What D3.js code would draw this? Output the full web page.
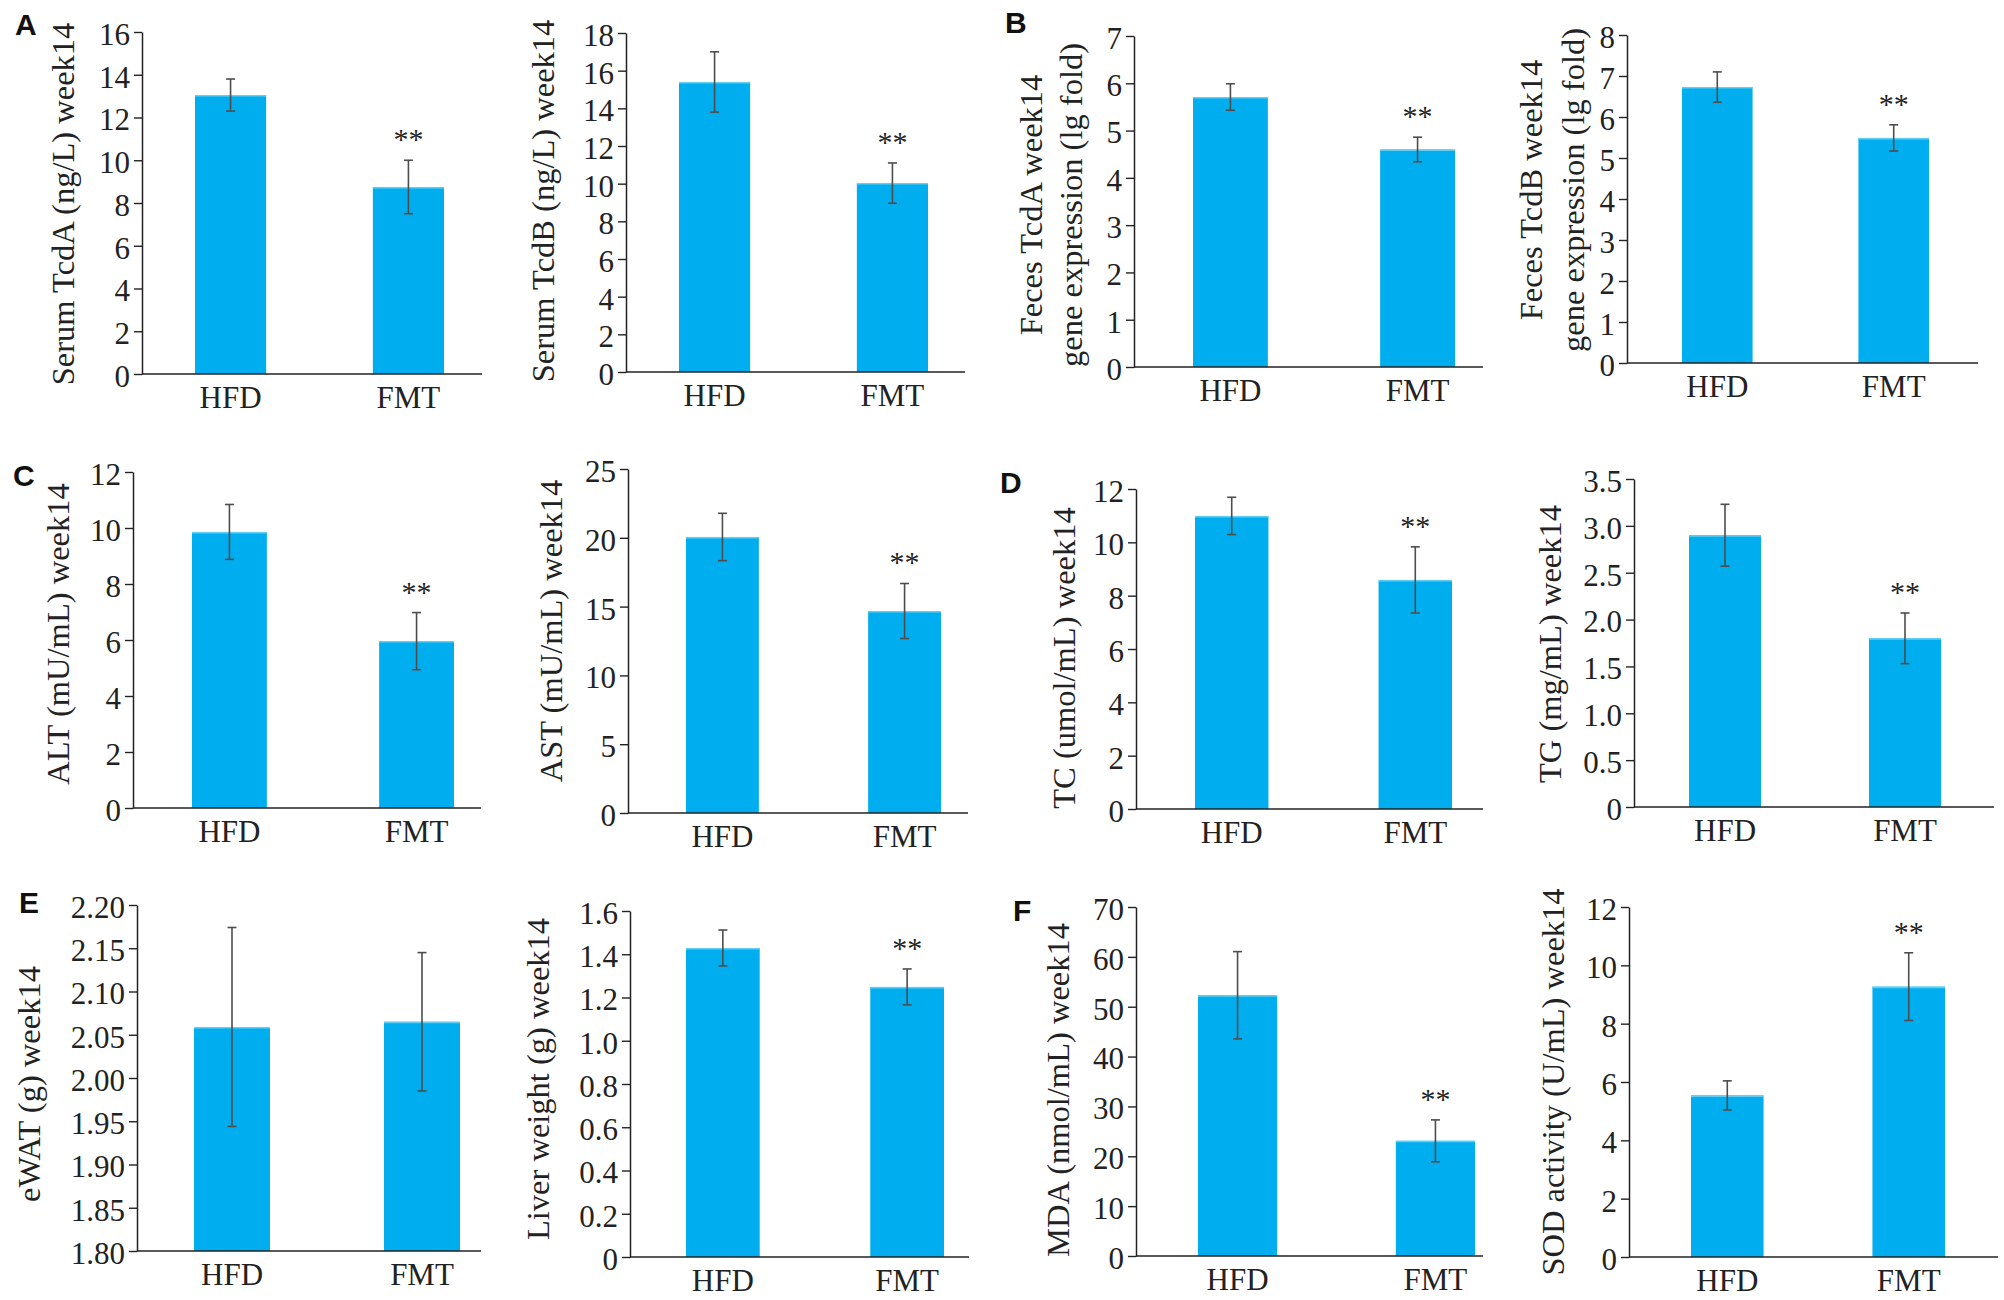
<!DOCTYPE html>
<html>
<head>
<meta charset="utf-8">
<script src="https://cdn.jsdelivr.net/npm/d3@7"></script>
<style>
  html, body { margin: 0; padding: 0; background: #fff; }
  svg { display: block; }
</style>
</head>
<body>
<div id="chart"></div>
<script>
const WIDTH = 2004;
const HEIGHT = 1300;

const BAR_COLOR = "#00aeef";
const ERR_COLOR = "#4d4d4d";
const AXIS_COLOR = "#222";
const SERIF = "'Liberation Serif', 'Times New Roman', serif";
const SANS = "'Liberation Sans', Arial, sans-serif";

// groups shown in every panel
const groups = ["HFD", "FMT"];

// values: mean and error (half bar length)
const serumTcdA = [13.05, 8.75];
const serumTcdAErr = [0.75, 1.25];
const serumTcdB = [15.4, 10.03];
const serumTcdBErr = [1.6, 1.07];
const fecesTcdA = [5.71, 4.6];
const fecesTcdAErr = [0.28, 0.26];
const fecesTcdB = [6.73, 5.49];
const fecesTcdBErr = [0.37, 0.32];
const alt = [9.86, 5.96];
const altErr = [0.98, 1.02];
const ast = [20.06, 14.68];
const astErr = [1.72, 2.0];
const tc = [10.99, 8.59];
const tcErr = [0.7, 1.24];
const tg = [2.9, 1.8];
const tgErr = [0.33, 0.27];
const ewat = [2.059, 2.065];
const ewatErr = [0.115, 0.08];
const liver = [1.429, 1.249];
const liverErr = [0.083, 0.083];
const mda = [52.3, 23.1];
const mdaErr = [8.75, 4.2];
const sod = [5.54, 9.27];
const sodErr = [0.5, 1.16];

// significance marks per group
const sigFirstOnly = [false, true];
const sigNone = [false, false];

// tick values of the y axes
const ticks0to16 = [0, 2, 4, 6, 8, 10, 12, 14, 16];
const ticks0to18 = [0, 2, 4, 6, 8, 10, 12, 14, 16, 18];
const ticks0to7 = [0, 1, 2, 3, 4, 5, 6, 7];
const ticks0to8 = [0, 1, 2, 3, 4, 5, 6, 7, 8];
const ticks0to12 = [0, 2, 4, 6, 8, 10, 12];
const ticks0to25 = [0, 5, 10, 15, 20, 25];
const ticks0to35 = [0, 0.5, 1.0, 1.5, 2.0, 2.5, 3.0, 3.5];
const ticksEwat = [1.8, 1.85, 1.9, 1.95, 2.0, 2.05, 2.1, 2.15, 2.2];
const ticksLiver = [0, 0.2, 0.4, 0.6, 0.8, 1.0, 1.2, 1.4, 1.6];
const ticks0to70 = [0, 10, 20, 30, 40, 50, 60, 70];

const fmtInt = d3.format("d");
const fmtOne = (d) => (d === 0 ? "0" : d3.format(".1f")(d));
const fmtTwo = d3.format(".2f");

// panel letters
const letters = [
  { text: "A", x: 15, y: 35 },
  { text: "B", x: 1005, y: 33 },
  { text: "C", x: 13, y: 486 },
  { text: "D", x: 1000, y: 493 },
  { text: "E", x: 19, y: 913 },
  { text: "F", x: 1013, y: 921 },
];

// one entry per panel; frame = axis box, bars = span covered by the two bars
const panels = [
  { label: ["Serum TcdA (ng/L) week14"], means: serumTcdA, errs: serumTcdAErr, sig: sigFirstOnly,
    ticks: ticks0to16, fmt: fmtInt,
    frame: { left: 142, right: 482, top: 32, bottom: 374 }, bars: [195, 444], labelX: [63], labelY: 204 },
  { label: ["Serum TcdB (ng/L) week14"], means: serumTcdB, errs: serumTcdBErr, sig: sigFirstOnly,
    ticks: ticks0to18, fmt: fmtInt,
    frame: { left: 626, right: 965, top: 33, bottom: 372 }, bars: [679, 928], labelX: [543], labelY: 201 },
  { label: ["Feces TcdA week14", "gene expression (lg fold)"], means: fecesTcdA, errs: fecesTcdAErr, sig: sigFirstOnly,
    ticks: ticks0to7, fmt: fmtInt,
    frame: { left: 1134, right: 1483, top: 36, bottom: 367 }, bars: [1193, 1455], labelX: [1031, 1071], labelY: 205 },
  { label: ["Feces TcdB week14", "gene expression (lg fold)"], means: fecesTcdB, errs: fecesTcdBErr, sig: sigFirstOnly,
    ticks: ticks0to8, fmt: fmtInt,
    frame: { left: 1627, right: 1978, top: 35, bottom: 363 }, bars: [1682, 1929], labelX: [1531, 1573], labelY: 190 },
  { label: ["ALT (mU/mL) week14"], means: alt, errs: altErr, sig: sigFirstOnly,
    ticks: ticks0to12, fmt: fmtInt,
    frame: { left: 133, right: 481, top: 472, bottom: 808 }, bars: [192, 454], labelX: [58], labelY: 634 },
  { label: ["AST (mU/mL) week14"], means: ast, errs: astErr, sig: sigFirstOnly,
    ticks: ticks0to25, fmt: fmtInt,
    frame: { left: 628, right: 968, top: 469, bottom: 813 }, bars: [686, 941], labelX: [551], labelY: 631 },
  { label: ["TC (umol/mL) week14"], means: tc, errs: tcErr, sig: sigFirstOnly,
    ticks: ticks0to12, fmt: fmtInt,
    frame: { left: 1136, right: 1483, top: 489, bottom: 809 }, bars: [1195, 1452], labelX: [1064], labelY: 658 },
  { label: ["TG (mg/mL) week14"], means: tg, errs: tgErr, sig: sigFirstOnly,
    ticks: ticks0to35, fmt: fmtOne,
    frame: { left: 1634, right: 1994, top: 479, bottom: 807 }, bars: [1689, 1941], labelX: [1550], labelY: 644 },
  { label: ["eWAT (g) week14"], means: ewat, errs: ewatErr, sig: sigNone,
    ticks: ticksEwat, fmt: fmtTwo,
    frame: { left: 137, right: 481, top: 905, bottom: 1251 }, bars: [194, 460], labelX: [29], labelY: 1084 },
  { label: ["Liver weight (g) week14"], means: liver, errs: liverErr, sig: sigFirstOnly,
    ticks: ticksLiver, fmt: fmtOne,
    frame: { left: 630, right: 969, top: 911, bottom: 1257 }, bars: [686, 944], labelX: [538], labelY: 1079 },
  { label: ["MDA (nmol/mL) week14"], means: mda, errs: mdaErr, sig: sigFirstOnly,
    ticks: ticks0to70, fmt: fmtInt,
    frame: { left: 1136, right: 1483, top: 907, bottom: 1256 }, bars: [1198, 1475], labelX: [1058], labelY: 1090 },
  { label: ["SOD activity (U/mL) week14"], means: sod, errs: sodErr, sig: sigFirstOnly,
    ticks: ticks0to12, fmt: fmtInt,
    frame: { left: 1629, right: 1998, top: 907, bottom: 1257 }, bars: [1691, 1945], labelX: [1553], labelY: 1082 },
];

const svg = d3
  .select("#chart")
  .append("svg")
  .attr("width", WIDTH)
  .attr("height", HEIGHT)
  .attr("viewBox", `0 0 ${WIDTH} ${HEIGHT}`);

svg.append("rect").attr("width", WIDTH).attr("height", HEIGHT).attr("fill", "#fff");

function styleText(sel, size) {
  sel.style("font-family", SERIF).style("font-size", `${size}px`).attr("fill", "#222");
}

function drawPanel(p) {
  const g = svg.append("g").attr("class", "panel");
  const f = p.frame;
  const yMin = p.ticks[0];
  const yMax = p.ticks[p.ticks.length - 1];

  const y = d3.scaleLinear().domain([yMin, yMax]).range([f.bottom, f.top]);
  const x = d3.scaleBand().domain(groups).range(p.bars).paddingInner(0.6).paddingOuter(0);

  const rows = groups.map((key, i) => ({ key, mean: p.means[i], err: p.errs[i], sig: p.sig[i] }));

  // bars
  g.selectAll("rect.bar")
    .data(rows)
    .join("rect")
    .attr("class", "bar")
    .attr("x", (d) => x(d.key))
    .attr("width", x.bandwidth())
    .attr("y", (d) => y(d.mean))
    .attr("height", (d) => y(yMin) - y(d.mean))
    .attr("fill", BAR_COLOR);

  // light top edge of each bar
  g.selectAll("line.bar-top")
    .data(rows)
    .join("line")
    .attr("class", "bar-top")
    .attr("x1", (d) => x(d.key))
    .attr("x2", (d) => x(d.key) + x.bandwidth())
    .attr("y1", (d) => y(d.mean) + 0.75)
    .attr("y2", (d) => y(d.mean) + 0.75)
    .attr("stroke", "#62cdf3")
    .attr("stroke-width", 1.5);

  // error bars
  const cx = (d) => x(d.key) + x.bandwidth() / 2;
  const err = g.append("g").attr("stroke", ERR_COLOR).attr("stroke-width", 1.6).attr("fill", "none");
  err.selectAll("line.stem")
    .data(rows)
    .join("line")
    .attr("class", "stem")
    .attr("x1", cx)
    .attr("x2", cx)
    .attr("y1", (d) => y(d.mean - d.err))
    .attr("y2", (d) => y(d.mean + d.err));
  [-1, 1].forEach((side) => {
    err.selectAll(`line.cap${side}`)
      .data(rows)
      .join("line")
      .attr("class", `cap${side}`)
      .attr("x1", (d) => cx(d) - 4.5)
      .attr("x2", (d) => cx(d) + 4.5)
      .attr("y1", (d) => y(d.mean + side * d.err))
      .attr("y2", (d) => y(d.mean + side * d.err));
  });

  // y axis
  const yAxis = g
    .append("g")
    .attr("transform", `translate(${f.left},0)`)
    .call(d3.axisLeft(y).tickValues(p.ticks).tickFormat(p.fmt).tickSize(8).tickSizeOuter(0).tickPadding(4));
  yAxis.attr("font-family", null).attr("font-size", null);
  yAxis.select(".domain").attr("stroke", AXIS_COLOR).attr("stroke-width", 1.5);
  yAxis.selectAll(".tick line").attr("stroke", AXIS_COLOR).attr("stroke-width", 1.4);
  yAxis.selectAll(".tick text").call(styleText, 31).attr("dy", "0.4em");

  // x axis: baseline and group names
  g.append("line")
    .attr("x1", f.left)
    .attr("x2", f.right)
    .attr("y1", y(yMin))
    .attr("y2", y(yMin))
    .attr("stroke", AXIS_COLOR)
    .attr("stroke-width", 1.6);

  const xAxis = g
    .append("g")
    .attr("transform", `translate(0,${f.bottom})`)
    .call(d3.axisBottom(x).tickSize(0).tickPadding(12));
  xAxis.attr("font-family", null).attr("font-size", null);
  xAxis.select(".domain").remove();
  xAxis.selectAll(".tick text").call(styleText, 31);

  // significance stars
  g.selectAll("text.sig")
    .data(rows.filter((d) => d.sig))
    .join("text")
    .attr("class", "sig")
    .attr("x", cx)
    .attr("y", (d) => y(d.mean + d.err) - 11)
    .attr("text-anchor", "middle")
    .call(styleText, 30)
    .text("**");

  // y label (one or two lines)
  p.label.forEach((line, i) => {
    g.append("text")
      .attr("transform", `translate(${p.labelX[i]},${p.labelY}) rotate(-90)`)
      .attr("text-anchor", "middle")
      .attr("dy", "0.35em")
      .call(styleText, 32.5)
      .text(line);
  });
}

panels.forEach(drawPanel);

svg.selectAll("text.letter")
  .data(letters)
  .join("text")
  .attr("class", "letter")
  .attr("x", (d) => d.x)
  .attr("y", (d) => d.y)
  .style("font-family", SANS)
  .style("font-weight", "bold")
  .style("font-size", "30px")
  .attr("fill", "#111")
  .text((d) => d.text);
</script>
</body>
</html>
